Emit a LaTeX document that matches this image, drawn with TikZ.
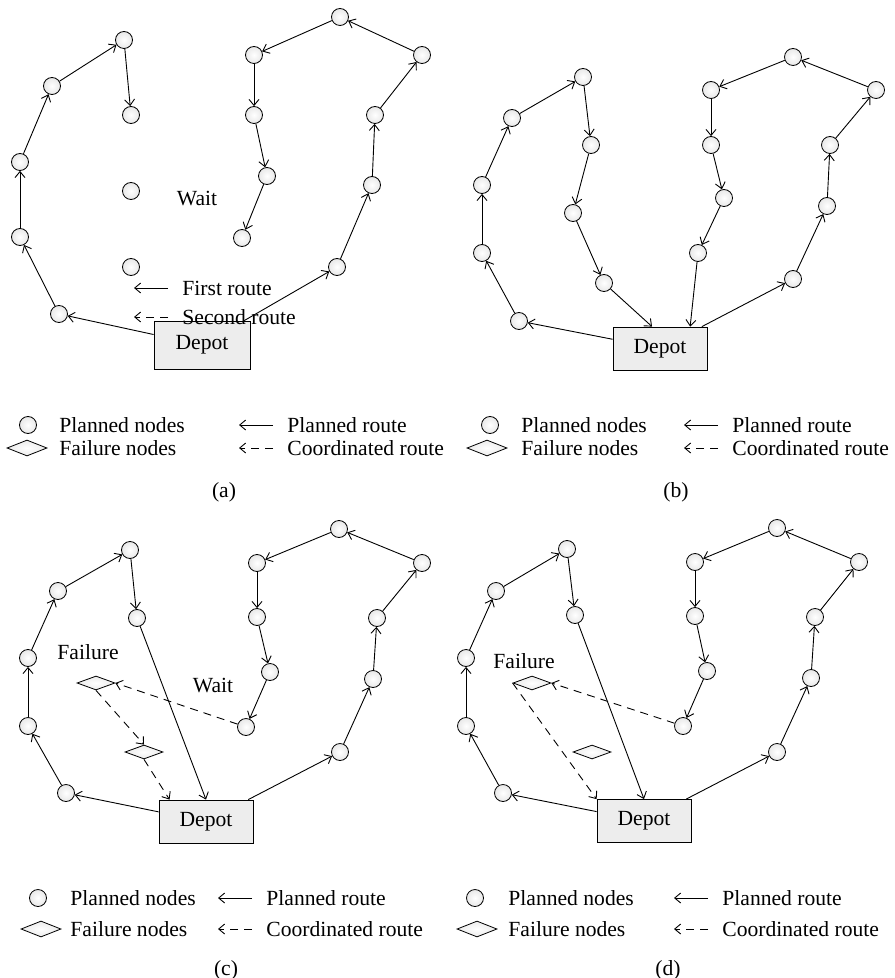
\documentclass[tikz,border=0pt]{standalone}
\usepackage{fontspec}
\setmainfont{Liberation Serif}
\usetikzlibrary{shapes.geometric, arrows.meta}

\begin{document}
\begin{tikzpicture}[x=0.5pt, y=-0.5pt, font=\fontsize{10.8pt}{13pt}\selectfont,
        planned/.style={circle, draw, line width=0.4pt, inner sep=0pt, minimum size=8.5pt, inner color=white, outer color=black!9},
        failure/.style={diamond, draw, line width=0.4pt, inner sep=0pt, minimum width=19pt, minimum height=7pt, inner color=white, outer color=black!8},
        depot/.style={rectangle, draw, line width=0.4pt, fill=black!7, minimum width=47pt, minimum height=21.5pt},
        route/.style={-{Straight Barb[length=3pt, width=5pt]}, line width=0.45pt},
        coordroute/.style={route, dash pattern=on 4pt off 3pt},
        txt/.style={anchor=west, inner sep=0pt}]

            \useasboundingbox (0,0) rectangle (894,978);

            % (a)
            \node[depot, minimum width=48pt, minimum height=24pt] (ad) at (202,345) {Depot};
            \node[planned] (a1) at (124,40) {};
            \node[planned] (a2) at (52,86) {};
            \node[planned] (a3) at (20,162) {};
            \node[planned] (a4) at (20,237) {};
            \node[planned] (a5) at (59,314) {};
            \node[planned] (a6) at (131,115) {};
            \node[planned] (aw1) at (131,191) {};
            \node[planned] (aw2) at (131,267) {};

            \node[planned] (ar1) at (337,267) {};
            \node[planned] (ar2) at (372,185) {};
            \node[planned] (ar3) at (375,115) {};
            \node[planned] (ar4) at (422,55) {};
            \node[planned] (ar5) at (340,17) {};
            \node[planned] (ar6) at (254,55) {};
            \node[planned] (ar7) at (254,115) {};
            \node[planned] (ar8) at (267,176) {};
            \node[planned] (ar9) at (242,238) {};

            \draw[route] (ad) -- (a5);
            \draw[route] (a5) -- (a4);
            \draw[route] (a4) -- (a3);
            \draw[route] (a3) -- (a2);
            \draw[route] (a2) -- (a1);
            \draw[route] (a1) -- (a6);

            \draw[route] (ad) -- (ar1);
            \draw[route] (ar1) -- (ar2);
            \draw[route] (ar2) -- (ar3);
            \draw[route] (ar3) -- (ar4);
            \draw[route] (ar4) -- (ar5);
            \draw[route] (ar5) -- (ar6);
            \draw[route] (ar6) -- (ar7);
            \draw[route] (ar7) -- (ar8);
            \draw[route] (ar8) -- (ar9);

            \node (await) at (197,199) {Wait};
            \node[txt] (afirst) at (182,288) {First route};
            \node[txt] (asecond) at (182,317) {Second route};
            \draw[route] ([xshift=-7pt]afirst.west) -- ++(-17pt,0);
            \draw[coordroute] ([xshift=-7pt]asecond.west) -- ++(-17pt,0);

            % legend (a)
            \node[planned] (lan) at (28,425) {};
            \node[txt] (lant) at (59,425) {Planned nodes};
            \node[failure, minimum width=20pt, minimum height=8pt] (laf) at (27,448) {};
            \node[txt] (laft) at (59,448) {Failure nodes};
            \node[txt] (lar) at (287,425) {Planned route};
            \node[txt] (lac) at (287,448) {Coordinated route};
            \draw[route] ([xshift=-7pt]lar.west) -- ++(-17pt,0);
            \draw[coordroute] ([xshift=-7pt]lac.west) -- ++(-17pt,0);
            \node (acap) at (224,492) {(a)};


            % (b)
            \node[depot] (bd) at (660,348.5) {Depot};
            \node[planned] (b1) at (519,321) {};
            \node[planned] (b2) at (482,253) {};
            \node[planned] (b3) at (482,185) {};
            \node[planned] (b4) at (512,118) {};
            \node[planned] (b5) at (583,77) {};
            \node[planned] (b6) at (591,145) {};
            \node[planned] (b7) at (573,213) {};
            \node[planned] (b8) at (604,283) {};

            \node[planned] (br1) at (793,279) {};
            \node[planned] (br2) at (827,206) {};
            \node[planned] (br3) at (830,145) {};
            \node[planned] (br4) at (876,90) {};
            \node[planned] (br5) at (793,57) {};
            \node[planned] (br6) at (711,90) {};
            \node[planned] (br7) at (711,145) {};
            \node[planned] (br8) at (724,198) {};
            \node[planned] (br9) at (698,253) {};

            \draw[route] (bd) -- (b1);
            \draw[route] (b1) -- (b2);
            \draw[route] (b2) -- (b3);
            \draw[route] (b3) -- (b4);
            \draw[route] (b4) -- (b5);
            \draw[route] (b5) -- (b6);
            \draw[route] (b6) -- (b7);
            \draw[route] (b7) -- (b8);
            \draw[route] (b8) -- (bd.110);

            \draw[route] (bd) -- (br1);
            \draw[route] (br1) -- (br2);
            \draw[route] (br2) -- (br3);
            \draw[route] (br3) -- (br4);
            \draw[route] (br4) -- (br5);
            \draw[route] (br5) -- (br6);
            \draw[route] (br6) -- (br7);
            \draw[route] (br7) -- (br8);
            \draw[route] (br8) -- (br9);
            \draw[route] (br9) -- (bd.36);

            % legend (b)
            \node[planned] (lbn) at (490,425) {};
            \node[txt] (lbnt) at (521,425) {Planned nodes};
            \node[failure, minimum width=20pt, minimum height=8pt] (lbf) at (487,448) {};
            \node[txt] (lbft) at (521,448) {Failure nodes};
            \node[txt] (lbr) at (732,425) {Planned route};
            \node[txt] (lbc) at (732,448) {Coordinated route};
            \draw[route] ([xshift=-7pt]lbr.west) -- ++(-17pt,0);
            \draw[coordroute] ([xshift=-7pt]lbc.west) -- ++(-17pt,0);
            \node (bcap) at (676,492) {(b)};


            % (c)
            \node[depot] (cd) at (206,821.5) {Depot};
            \node[planned] (c1) at (130,550) {};
            \node[planned] (c2) at (58,591) {};
            \node[planned] (c3) at (28,658) {};
            \node[planned] (c4) at (28,726) {};
            \node[planned] (c5) at (66,793) {};
            \node[planned] (c6) at (137,618) {};

            \node[planned] (cr1) at (340,752) {};
            \node[planned] (cr2) at (373,679) {};
            \node[planned] (cr3) at (377,618) {};
            \node[planned] (cr4) at (422,563) {};
            \node[planned] (cr5) at (339,529) {};
            \node[planned] (cr6) at (257,563) {};
            \node[planned] (cr7) at (257,617) {};
            \node[planned] (cr8) at (270,672) {};
            \node[planned] (cr9) at (246,727) {};

            \node[failure] (cf1) at (96,683) {};
            \node[failure] (cf2) at (144,752) {};

            \draw[route] (cd) -- (c5);
            \draw[route] (c5) -- (c4);
            \draw[route] (c4) -- (c3);
            \draw[route] (c3) -- (c2);
            \draw[route] (c2) -- (c1);
            \draw[route] (c1) -- (c6);
            \draw[route] (c6) -- (cd.north);

            \draw[route] (cd) -- (cr1);
            \draw[route] (cr1) -- (cr2);
            \draw[route] (cr2) -- (cr3);
            \draw[route] (cr3) -- (cr4);
            \draw[route] (cr4) -- (cr5);
            \draw[route] (cr5) -- (cr6);
            \draw[route] (cr6) -- (cr7);
            \draw[route] (cr7) -- (cr8);
            \draw[route] (cr8) -- (cr9);

            \draw[coordroute] (cr9) -- (cf1.east);
            \draw[coordroute] (cf1.south) -- (cf2.north);
            \draw[coordroute] (cf2.south) -- (cd.149);

            \node (cfail) at (88,652) {Failure};
            \node (cwait) at (213,686) {Wait};

            % legend (c)
            \node[planned] (lcn) at (38,898) {};
            \node[txt] (lcnt) at (70,898) {Planned nodes};
            \node[failure, minimum width=20pt, minimum height=8pt] (lcf) at (41,929) {};
            \node[txt] (lcft) at (70,929) {Failure nodes};
            \node[txt] (lcr) at (266,898) {Planned route};
            \node[txt] (lcc) at (266,929) {Coordinated route};
            \draw[route] ([xshift=-7pt]lcr.west) -- ++(-17pt,0);
            \draw[coordroute] ([xshift=-7pt]lcc.west) -- ++(-17pt,0);
            \node (ccap) at (226,970) {(c)};


            % (d)
            \node[depot] (dd) at (644,821) {Depot};
            \node[planned] (d1) at (567,549) {};
            \node[planned] (d2) at (496,591) {};
            \node[planned] (d3) at (466,658) {};
            \node[planned] (d4) at (466,726) {};
            \node[planned] (d5) at (503,793) {};
            \node[planned] (d6) at (575,615) {};

            \node[planned] (dr1) at (777,752) {};
            \node[planned] (dr2) at (811,678) {};
            \node[planned] (dr3) at (815,617) {};
            \node[planned] (dr4) at (859,562) {};
            \node[planned] (dr5) at (777,528) {};
            \node[planned] (dr6) at (695,562) {};
            \node[planned] (dr7) at (695,616) {};
            \node[planned] (dr8) at (707,671) {};
            \node[planned] (dr9) at (683,726) {};

            \node[failure] (df1) at (532,683) {};
            \node[failure] (df2) at (592,752) {};

            \draw[route] (dd) -- (d5);
            \draw[route] (d5) -- (d4);
            \draw[route] (d4) -- (d3);
            \draw[route] (d3) -- (d2);
            \draw[route] (d2) -- (d1);
            \draw[route] (d1) -- (d6);
            \draw[route] (d6) -- (dd.north);

            \draw[route] (dd) -- (dr1);
            \draw[route] (dr1) -- (dr2);
            \draw[route] (dr2) -- (dr3);
            \draw[route] (dr3) -- (dr4);
            \draw[route] (dr4) -- (dr5);
            \draw[route] (dr5) -- (dr6);
            \draw[route] (dr6) -- (dr7);
            \draw[route] (dr7) -- (dr8);
            \draw[route] (dr8) -- (dr9);

            \draw[coordroute] (dr9) -- (df1.east);
            \draw[coordroute] (df1.west) -- (dd.north west);

            \node (dfail) at (524,661) {Failure};

            % legend (d)
            \node[planned] (ldn) at (475,898) {};
            \node[txt] (ldnt) at (508,898) {Planned nodes};
            \node[failure, minimum width=20pt, minimum height=8pt] (ldf) at (477,929) {};
            \node[txt] (ldft) at (508,929) {Failure nodes};
            \node[txt] (ldr) at (722,898) {Planned route};
            \node[txt] (ldc) at (722,929) {Coordinated route};
            \draw[route] ([xshift=-7pt]ldr.west) -- ++(-17pt,0);
            \draw[coordroute] ([xshift=-7pt]ldc.west) -- ++(-17pt,0);
            \node (dcap) at (668,970) {(d)};
        \end{tikzpicture}
\end{document}
